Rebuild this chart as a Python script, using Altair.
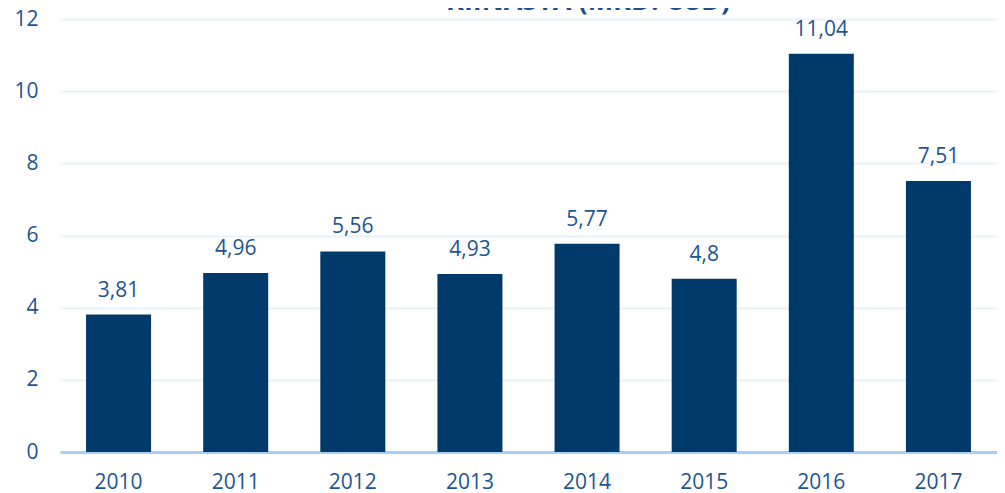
import altair as alt
import pandas as pd

years = ["2010", "2011", "2012", "2013", "2014", "2015", "2016", "2017"]
values = [3.81, 4.96, 5.56, 4.93, 5.77, 4.80, 11.04, 7.51]
labels = ["3,81", "4,96", "5,56", "4,93", "5,77", "4,8", "11,04", "7,51"]
title_text = "KIINASTA (MRD. USD)"

df = pd.DataFrame({"year": years, "value": values, "label": labels})

FONT = "Open Sans"
TXT = "#1D5592"

base = alt.Chart(df)

x = alt.X("year:N", sort=years, title=None,
          scale=alt.Scale(paddingInner=0.445, paddingOuter=0.2225),
          axis=alt.Axis(labelAngle=0, labelFont=FONT, labelFontSize=21, labelColor=TXT,
                        labelPadding=19, ticks=False, domain=True, domainColor="#A6CFF3",
                        domainWidth=3, grid=False))
y = alt.Y("value:Q", title=None,
          scale=alt.Scale(domain=[0, 12], nice=False),
          axis=alt.Axis(values=[0, 2, 4, 6, 8, 10, 12], labelFont=FONT, labelFontSize=21,
                        labelColor=TXT, labelPadding=22, ticks=False, domain=False,
                        grid=True, gridColor="#EAF2FB", gridWidth=2))

bars = base.mark_bar(color="#003A6B").encode(x=x, y=y)
text = base.mark_text(font=FONT, fontSize=21, color=TXT, baseline="bottom", dy=-14).encode(
    x=alt.X("year:N", sort=years), y="value:Q", text="label:N")

title = alt.Chart(pd.DataFrame({"t": [title_text]})).mark_text(
    font=FONT, fontSize=27, fontWeight="bold", color="#1B4F8E", baseline="alphabetic",
    align="center").encode(x=alt.value(528), y=alt.value(-9), text="t:N")

chart = alt.layer(bars, text, title).properties(
    width=937, height=433,
    autosize=alt.AutoSizeParams(type="none"),
    padding={"left": 52, "top": 11, "right": 0, "bottom": 41},
).configure_view(stroke=None)

chart.save("out.html", embed_options={"renderer": "svg", "actions": False})
